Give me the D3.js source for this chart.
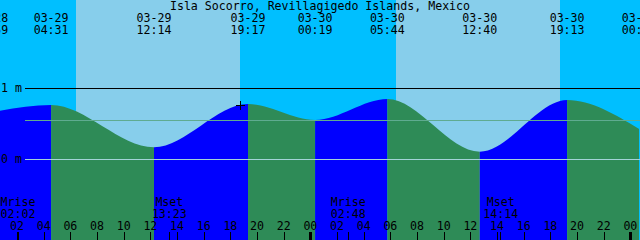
<!DOCTYPE html>
<html>
<head>
<meta charset="utf-8">
<script src="https://cdn.jsdelivr.net/npm/d3@7"></script>
<style>
body { margin: 0; background: #fff; }
svg { display: block; }
text { font-family: "DejaVu Sans Mono", monospace; font-size: 11.6px; fill: #000; }
</style>
</head>
<body>
<div id="chart"></div>
<script>
var title = "Isla Socorro, Revillagigedo Islands, Mexico";
var startTime = "2025-03-29 00:41";
var endTime = "2025-03-31 00:41";

// high / low tides (metres)
var tideTimes = ["2025-03-28 23:59", "2025-03-29 04:31", "2025-03-29 12:14",
                 "2025-03-29 19:17", "2025-03-30 00:19", "2025-03-30 05:44",
                 "2025-03-30 12:40", "2025-03-30 19:13", "2025-03-31 00:37"];
var tideHeights = [0.66, 0.765, 0.169, 0.779, 0.553, 0.849, 0.107, 0.835, 0.427];

// sunrise / sunset
var sunTimes = ["2025-03-29 06:23", "2025-03-29 18:41", "2025-03-30 06:23", "2025-03-30 18:41"];
var sunKinds = ["rise", "set", "rise", "set"];

// moon events
var moonTimes = ["2025-03-29 02:02", "2025-03-29 13:23", "2025-03-30 02:48", "2025-03-30 14:14"];
var moonNames = ["Mrise", "Mset", "Mrise", "Mset"];

// horizontal reference levels
var levelValues = [1, 0.55, 0];
var levelLabels = ["1 m", "", "0 m"];

// current-time mark
var markTime = "2025-03-29 18:41";
var markHeight = 0.77;

function draw_tide_graph(id) {
    "use strict";
    var width = 640;
    var height = 240;
    var parse = d3.utcParse("%Y-%m-%d %H:%M");
    var t0 = parse(startTime);
    var t1 = parse(endTime);

    var x = d3.scaleUtc().domain([t0, t1]).range([0, width]);
    var y = d3.scaleLinear().domain([0, 1]).range([159.3, 88.3]);

    var svg = d3.select(id)
        .append("svg")
        .attr("width", width)
        .attr("height", height);

    // sky bands, night before the first sunrise
    var edges = [t0].concat(sunTimes.map(parse)).concat([t1]);
    var bands = [];
    for (var i = 0; i < edges.length - 1; i++) {
        var isDay = i > 0 && sunKinds[i - 1] === "rise";
        bands.push({a: edges[i], b: edges[i + 1], day: isDay});
    }
    svg.selectAll(".sky")
        .data(bands)
        .enter()
        .append("rect")
        .attr("class", "sky")
        .attr("x", function(d) { return x(d.a); })
        .attr("width", function(d) { return x(d.b) - x(d.a); })
        .attr("y", 0)
        .attr("height", height)
        .attr("fill", function(d) { return d.day ? "#87CEEB" : "#00BFFF"; });

    // water
    var tides = tideTimes.map(function(t, i) { return {t: parse(t), h: tideHeights[i]}; });
    var area = d3.area()
        .x(function(d) { return x(d.t); })
        .y0(height)
        .y1(function(d) { return y(d.h); })
        .curve(d3.curveMonotoneX);

    svg.append("clipPath")
        .attr("id", "water")
        .append("path")
        .attr("d", area(tides));

    var segs = [];
    for (var j = 0; j < tides.length - 1; j++) {
        segs.push({a: tides[j].t, b: tides[j + 1].t, rising: tides[j + 1].h > tides[j].h});
    }
    svg.append("g")
        .attr("clip-path", "url(#water)")
        .selectAll("rect")
        .data(segs)
        .enter()
        .append("rect")
        .attr("x", function(d) { return x(d.a); })
        .attr("width", function(d) { return x(d.b) - x(d.a); })
        .attr("y", 0)
        .attr("height", height)
        .attr("fill", function(d) { return d.rising ? "#0000FF" : "#2E8B57"; });

    // level lines
    var lineColors = ["#000000", "#5fab90", "#a3d3d8"];
    svg.selectAll(".level")
        .data(levelValues)
        .enter()
        .append("rect")
        .attr("class", "level")
        .attr("x", 25)
        .attr("width", width - 25)
        .attr("y", function(d) { return Math.round(y(d)); })
        .attr("height", 1)
        .attr("fill", function(d, i) { return lineColors[i]; });

    svg.selectAll(".levlab")
        .data(levelValues)
        .enter()
        .append("text")
        .attr("class", "levlab")
        .attr("x", 1)
        .attr("y", function(d) { return Math.round(y(d)) + 4; })
        .text(function(d, i) { return levelLabels[i]; });

    // mark
    var mx = Math.round(x(parse(markTime))) + 0.5;
    var my = Math.round(y(markHeight)) + 0.5;
    svg.append("path")
        .attr("d", "M" + (mx - 4.5) + "," + my + "H" + (mx + 4.5) +
                   "M" + mx + "," + (my - 4.5) + "V" + (my + 4.5))
        .attr("stroke", "#000")
        .attr("stroke-width", 1)
        .attr("shape-rendering", "crispEdges");

    // title + tide labels
    svg.append("text")
        .attr("x", width / 2)
        .attr("y", 10)
        .attr("text-anchor", "middle")
        .text(title);

    var fmtDate = d3.utcFormat("%m-%d");
    var fmtTime = d3.utcFormat("%H:%M");
    var tl = svg.selectAll(".tidelab")
        .data(tides)
        .enter()
        .append("g")
        .attr("class", "tidelab")
        .attr("transform", function(d) { return "translate(" + x(d.t) + ",0)"; });
    tl.append("text")
        .attr("y", 21.7)
        .attr("text-anchor", "middle")
        .text(function(d) { return fmtDate(d.t); });
    tl.append("text")
        .attr("y", 34)
        .attr("text-anchor", "middle")
        .text(function(d) { return fmtTime(d.t); });

    // moon labels + ticks
    var moon = moonTimes.map(function(t, i) { return {t: parse(t), name: moonNames[i]}; });
    var ml = svg.selectAll(".moonlab")
        .data(moon)
        .enter()
        .append("g")
        .attr("class", "moonlab")
        .attr("transform", function(d) { return "translate(" + x(d.t) + ",0)"; });
    ml.append("text")
        .attr("y", 206)
        .attr("text-anchor", "middle")
        .text(function(d) { return d.name; });
    ml.append("text")
        .attr("y", 217.5)
        .attr("text-anchor", "middle")
        .text(function(d) { return fmtTime(d.t); });

    svg.selectAll(".moontick")
        .data(moon)
        .enter()
        .append("rect")
        .attr("class", "moontick")
        .attr("x", function(d) { return Math.floor(x(d.t)); })
        .attr("width", 1)
        .attr("y", 232)
        .attr("height", 8)
        .attr("fill", "#000");

    // hour axis
    var hours = d3.utcHour.every(2).range(t0, t1);
    var fmtHour = d3.utcFormat("%H");
    svg.selectAll(".hourtick")
        .data(hours)
        .enter()
        .append("rect")
        .attr("class", "hourtick")
        .attr("x", function(d) {
            return d.getUTCHours() === 0 ? Math.floor(x(d)) - 1 : Math.floor(x(d));
        })
        .attr("width", function(d) { return d.getUTCHours() === 0 ? 3 : 1; })
        .attr("y", 232)
        .attr("height", 8)
        .attr("fill", "#000");

    svg.selectAll(".hourlab")
        .data(hours)
        .enter()
        .append("text")
        .attr("class", "hourlab")
        .attr("x", function(d) { return x(d) - 0.5; })
        .attr("y", 229.5)
        .attr("text-anchor", "middle")
        .text(function(d) { return fmtHour(d); });
}

draw_tide_graph("#chart");
</script>
</body>
</html>
